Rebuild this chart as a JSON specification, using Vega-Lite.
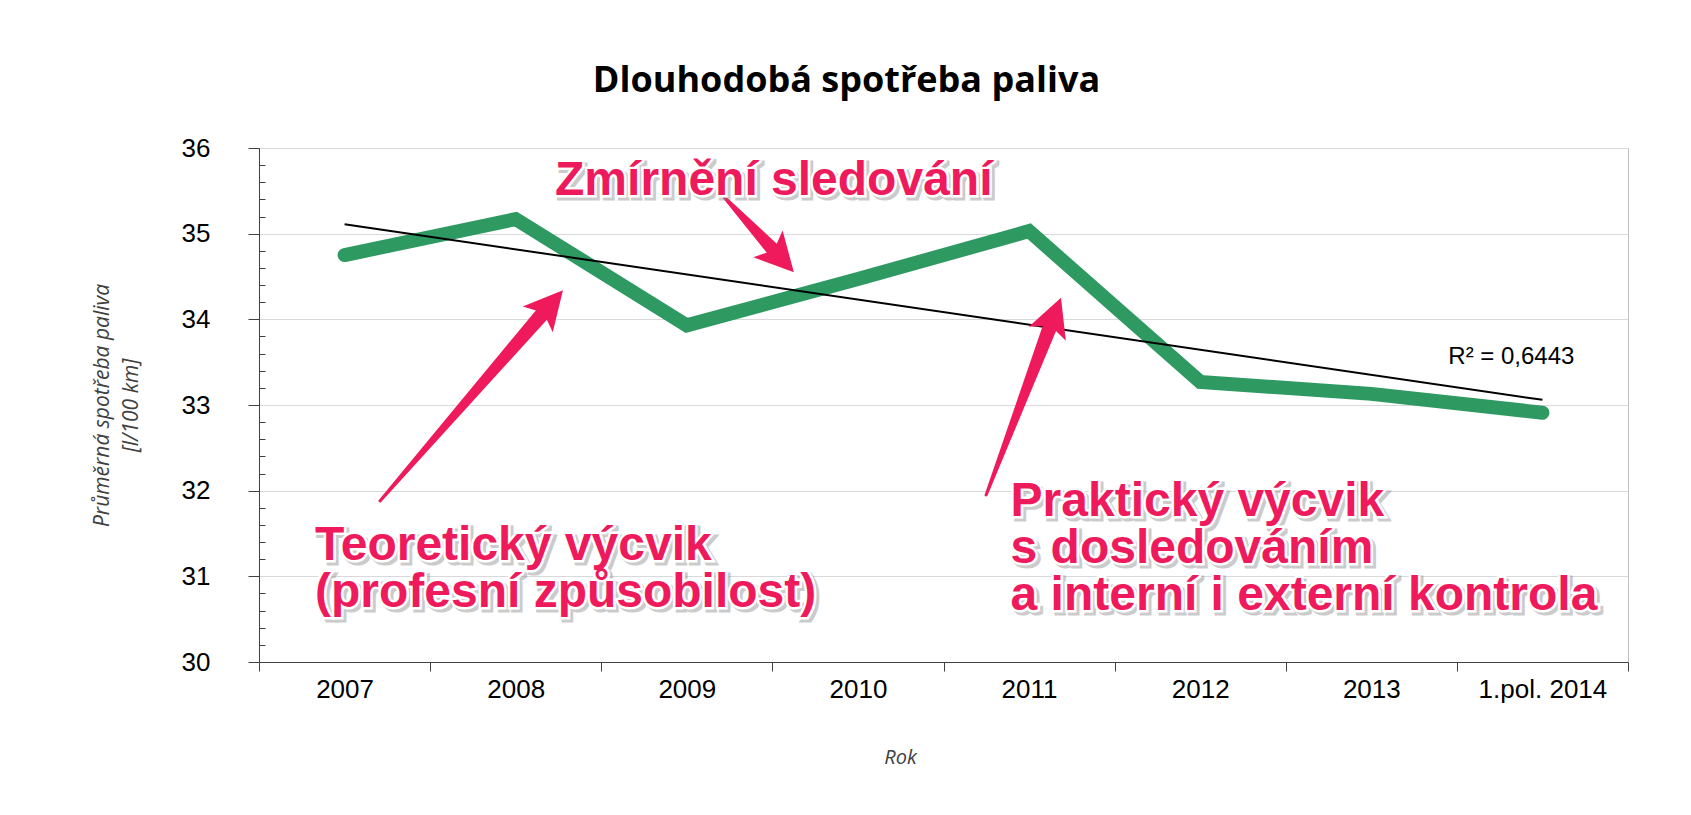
{
  "$schema": "https://vega.github.io/schema/vega-lite/v6.json",
  "width": 1369,
  "height": 514,
  "autosize": {"type": "none"},
  "padding": {"left": 259, "top": 148, "right": 63, "bottom": 153},
  "background": "white",
  "config": {"view": {"stroke": "#BFBFBF", "strokeWidth": 1}},
  "title": {"text": "Dlouhodobá spotřeba paliva", "font": "Open Sans", "fontSize": 36, "fontWeight": "bold", "color": "#000000", "frame": "group", "anchor": "middle", "dx": -97, "offset": 35},
  "datasets": {
    "spotreba": [
      {"Rok": "2007", "spotreba": 34.75},
      {"Rok": "2008", "spotreba": 35.17},
      {"Rok": "2009", "spotreba": 33.93},
      {"Rok": "2010", "spotreba": 34.47},
      {"Rok": "2011", "spotreba": 35.03},
      {"Rok": "2012", "spotreba": 33.27},
      {"Rok": "2013", "spotreba": 33.13},
      {"Rok": "1.pol. 2014", "spotreba": 32.91}
    ],
    "trend": [
      {"Rok": "2007", "trend": 35.11},
      {"Rok": "1.pol. 2014", "trend": 33.06}
    ],
    "arrows": [
      {"arrow": "A", "part": "tail", "xi": 0.707, "y": 31.88},
      {"arrow": "A", "part": "head", "xi": 1.692, "y": 34.146},
      {"arrow": "B", "part": "tail", "xi": 4.249, "y": 31.95},
      {"arrow": "B", "part": "head", "xi": 4.641, "y": 34.011},
      {"arrow": "C", "part": "tail", "xi": 2.712, "y": 35.44},
      {"arrow": "C", "part": "head", "xi": 3.039, "y": 34.739}
    ],
    "notes": [
      {"xi": 1.73, "y": 35.45, "text": ["Zmírnění sledování"]},
      {"xi": 0.327, "y": 31.19, "text": ["Teoretický výcvik", "(profesní způsobilost)"]},
      {"xi": 4.392, "y": 31.71, "text": ["Praktický výcvik", "s dosledováním", "a interní i externí kontrola"]}
    ],
    "r2": [{"xi": 6.95, "y": 33.48, "text": "R² = 0,6443"}]
  },
  "resolve": {"scale": {"x": "independent"}, "axis": {"x": "independent", "y": "independent"}},
  "layer": [
    {
      "data": {"name": "spotreba"},
      "mark": {"type": "line", "color": "#2E9A62", "strokeWidth": 14, "strokeCap": "round", "strokeJoin": "miter"},
      "encoding": {
        "x": {
          "field": "Rok", "type": "nominal", "sort": null, "bandPosition": 0.5,
          "scale": {"type": "band", "domain": ["2007", "2008", "2009", "2010", "2011", "2012", "2013", "1.pol. 2014"], "paddingInner": 0, "paddingOuter": 0},
          "axis": {"title": "Rok", "titleFont": "Open Sans", "titleFontStyle": "italic", "titleFontWeight": "normal", "titleFontSize": 20, "titleColor": "#404040", "titleX": 641, "titlePadding": 45, "labelFont": "Liberation Sans", "labelFontSize": 26, "labelColor": "#000000", "labelAngle": 0, "tickBand": "extent", "tickSize": 9, "tickColor": "#404040", "domainColor": "#404040", "labelPadding": 5, "grid": false}
        },
        "y": {
          "field": "spotreba", "type": "quantitative",
          "scale": {"domain": [30, 36], "nice": false, "zero": false},
          "axis": {"title": ["Průměrná spotřeba paliva", "[l/100 km]"], "titleFont": "Open Sans", "titleFontStyle": "italic", "titleFontWeight": "normal", "titleFontSize": 21, "titleColor": "#404040", "titleLineHeight": 29, "titlePadding": 40, "values": [30, 31, 32, 33, 34, 35, 36], "labelFont": "Liberation Sans", "labelFontSize": 26, "labelColor": "#000000", "labelPadding": 38, "tickSize": 11, "tickColor": "#404040", "domainColor": "#404040", "grid": true, "gridColor": "#D9D9D9"}
        }
      }
    },
    {
      "data": {"name": "trend"},
      "mark": {"type": "line", "color": "#000000", "strokeWidth": 2},
      "encoding": {
        "x": {"field": "Rok", "type": "nominal", "sort": null, "bandPosition": 0.5, "scale": {"type": "band", "domain": ["2007", "2008", "2009", "2010", "2011", "2012", "2013", "1.pol. 2014"], "paddingInner": 0, "paddingOuter": 0}, "axis": null},
        "y": {"field": "trend", "type": "quantitative", "scale": {"domain": [30, 36], "nice": false, "zero": false}, "axis": null}
      }
    },
    {
      "data": {"name": "arrows"},
      "mark": {"type": "trail", "color": "#EE1A5B"},
      "encoding": {
        "x": {"field": "xi", "type": "quantitative", "scale": {"domain": [0, 8], "nice": false, "zero": false}, "axis": null},
        "y": {
          "field": "y", "type": "quantitative", "scale": {"domain": [30, 36], "nice": false, "zero": false},
          "axis": {"orient": "left", "title": null, "labels": false, "domain": false, "grid": false, "tickSize": -6, "tickColor": "#404040",
            "values": [30.2, 30.4, 30.6, 30.8, 31.2, 31.4, 31.6, 31.8, 32.2, 32.4, 32.6, 32.8, 33.2, 33.4, 33.6, 33.8, 34.2, 34.4, 34.6, 34.8, 35.2, 35.4, 35.6, 35.8]}
        },
        "size": {"field": "part", "type": "ordinal", "scale": {"type": "ordinal", "domain": ["tail", "head"], "range": [3, 15]}, "legend": null},
        "detail": {"field": "arrow"}
      }
    },
    {
      "data": {"name": "arrows"},
      "transform": [{"filter": "datum.part === 'head'"}],
      "mark": {"type": "point", "filled": true, "opacity": 1, "color": "#EE1A5B", "size": 1936, "shape": "M0,-1L0.9,0.75L0,0.35L-0.9,0.75Z"},
      "encoding": {
        "x": {"field": "xi", "type": "quantitative", "scale": {"domain": [0, 8], "nice": false, "zero": false}, "axis": null},
        "y": {"field": "y", "type": "quantitative", "scale": {"domain": [30, 36], "nice": false, "zero": false}, "axis": null},
        "angle": {"field": "arrow", "type": "nominal", "scale": {"type": "ordinal", "domain": ["A", "B", "C"], "range": [40.8, 20.8, 137.7]}, "legend": null}
      }
    },
    {
      "data": {"name": "notes"},
      "mark": {"type": "text", "font": "Liberation Sans", "fontWeight": "bold", "fontSize": 48, "align": "left", "baseline": "alphabetic", "lineHeight": 47, "fill": "#808080", "stroke": "#808080", "strokeWidth": 5, "opacity": 0.4, "dx": 3, "dy": 3},
      "encoding": {
        "x": {"field": "xi", "type": "quantitative", "scale": {"domain": [0, 8], "nice": false, "zero": false}, "axis": null},
        "y": {"field": "y", "type": "quantitative", "scale": {"domain": [30, 36], "nice": false, "zero": false}, "axis": null},
        "text": {"field": "text"}
      }
    },
    {
      "data": {"name": "notes"},
      "mark": {"type": "text", "font": "Liberation Sans", "fontWeight": "bold", "fontSize": 48, "align": "left", "baseline": "alphabetic", "lineHeight": 47, "fill": "#FFFFFF", "stroke": "#FFFFFF", "strokeWidth": 5},
      "encoding": {
        "x": {"field": "xi", "type": "quantitative", "scale": {"domain": [0, 8], "nice": false, "zero": false}, "axis": null},
        "y": {"field": "y", "type": "quantitative", "scale": {"domain": [30, 36], "nice": false, "zero": false}, "axis": null},
        "text": {"field": "text"}
      }
    },
    {
      "data": {"name": "notes"},
      "mark": {"type": "text", "font": "Liberation Sans", "fontWeight": "bold", "fontSize": 48, "align": "left", "baseline": "alphabetic", "lineHeight": 47, "fill": "#EE1A5B"},
      "encoding": {
        "x": {"field": "xi", "type": "quantitative", "scale": {"domain": [0, 8], "nice": false, "zero": false}, "axis": null},
        "y": {"field": "y", "type": "quantitative", "scale": {"domain": [30, 36], "nice": false, "zero": false}, "axis": null},
        "text": {"field": "text"}
      }
    },
    {
      "data": {"name": "r2"},
      "mark": {"type": "text", "font": "Liberation Sans", "fontSize": 24, "align": "left", "baseline": "alphabetic", "fill": "#000000"},
      "encoding": {
        "x": {"field": "xi", "type": "quantitative", "scale": {"domain": [0, 8], "nice": false, "zero": false}, "axis": null},
        "y": {"field": "y", "type": "quantitative", "scale": {"domain": [30, 36], "nice": false, "zero": false}, "axis": null},
        "text": {"field": "text"}
      }
    }
  ]
}
